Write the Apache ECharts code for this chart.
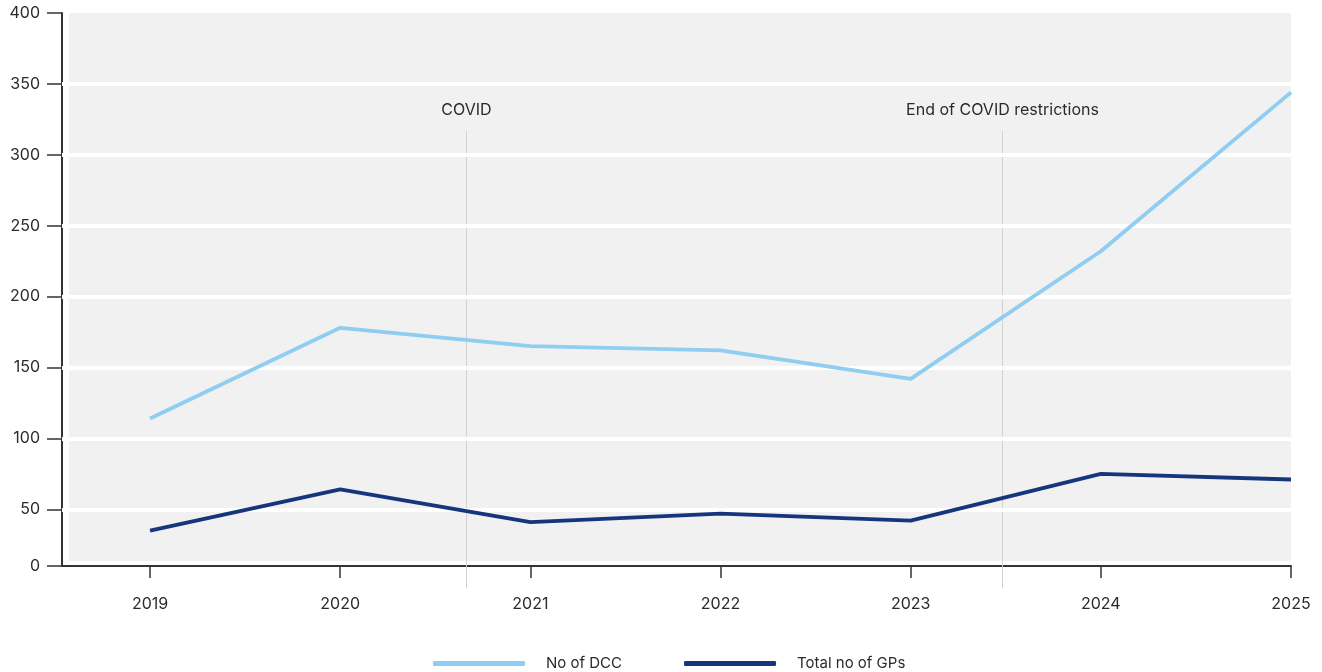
<!DOCTYPE html>
<html>
<head>
<meta charset="utf-8">
<script src="https://cdn.jsdelivr.net/npm/echarts@6/dist/echarts.min.js"></script>
<style>
  html, body { margin: 0; padding: 0; background: #fff; }
  #chart { width: 1322px; height: 672px; }
</style>
</head>
<body>
<div id="chart"></div>
<script>
// Years on the horizontal axis
const years = [2019, 2020, 2021, 2022, 2023, 2024, 2025];
// Series values
const dccCounts = [114, 178, 165, 162, 142, 232, 344];
const gpCounts = [35, 64, 41, 47, 42, 75, 71];
// Vertical y-axis tick labels (the lowest tick is shown as 0)
const yTicks = [10, 50, 100, 150, 200, 250, 300, 350, 400];
const yGridLines = [50, 100, 150, 200, 250, 300, 350];
// Event markers
const eventNames = ['COVID', 'End of COVID restrictions'];
const eventYears = [2020.66, 2023.48];
const eventSpan = [-5.5, 317];

const seriesNames = ['No of DCC', 'Total no of GPs'];
const seriesColors = ['#8fcdf1', '#15367c'];

const FONT = 'Inter, "Noto Sans", sans-serif';
const TEXT = '#2b2b2b';
const Y_MIN = 10, Y_MAX = 400;
const X_MIN = 2018.537, X_MAX = 2025;

const chart = echarts.init(document.getElementById('chart'));

function pairs(vals) {
  return years.map((y, i) => [y, vals[i]]);
}

const option = {
  animation: false,
  textStyle: { fontFamily: FONT },
  grid: { left: 62, right: 31, top: 13, bottom: 106, containLabel: false },
  xAxis: {
    type: 'value',
    min: X_MIN,
    max: X_MAX,
    axisLine: { show: true, lineStyle: { color: '#333', width: 2 } },
    axisTick: { show: true, inside: false, customValues: years, length: 12, lineStyle: { color: '#333', width: 1.5 } },
    axisLabel: { inside: false, customValues: years, margin: 30, color: TEXT, fontSize: 16, fontFamily: FONT, formatter: v => String(v) },
    splitLine: { show: false }
  },
  yAxis: {
    type: 'value',
    min: Y_MIN,
    max: Y_MAX,
    axisLine: { show: true, lineStyle: { color: '#333', width: 2 } },
    axisTick: { show: true, inside: false, customValues: yTicks, length: 15, lineStyle: { color: '#333', width: 1.5 } },
    axisLabel: {
      inside: false, customValues: yTicks, margin: 22, color: TEXT, fontSize: 16, fontFamily: FONT,
      formatter: v => (v === Y_MIN ? '0' : String(v))
    },
    splitLine: { show: false }
  },
  legend: {
    data: seriesNames,
    top: 651,
    left: 428,
    icon: 'roundRect',
    itemWidth: 92,
    itemHeight: 5,
    itemGap: 62,
    textStyle: { color: TEXT, fontSize: 15, fontFamily: FONT, padding: [0, 0, 0, 16] }
  },
  series: [
    {
      name: seriesNames[0],
      type: 'line',
      data: pairs(dccCounts),
      showSymbol: false,
      symbol: 'none',
      z: 5,
      lineStyle: { color: seriesColors[0], width: 3.8 },
      itemStyle: { color: seriesColors[0] }
    },
    {
      name: seriesNames[1],
      type: 'line',
      data: pairs(gpCounts),
      showSymbol: false,
      symbol: 'none',
      z: 5,
      lineStyle: { color: seriesColors[1], width: 3.8 },
      itemStyle: { color: seriesColors[1] },
      // White horizontal rules across the shaded plot area
      markLine: {
        silent: true,
        symbol: 'none',
        animation: false,
        label: { show: false },
        lineStyle: { color: '#ffffff', width: 4, type: 'solid' },
        data: yGridLines.map(v => ({ yAxis: v }))
      }
    }
  ]
};

chart.setOption(option);

const px = v => chart.convertToPixel({ xAxisIndex: 0 }, v);
const py = v => chart.convertToPixel({ yAxisIndex: 0 }, v);

// Shaded plot panel, inset a little from the axis lines
const panelLeft = px(X_MIN) + 7;
const panelRight = px(X_MAX);
const panelTop = py(Y_MAX);
const panelBottom = py(Y_MIN) - 5;

const graphics = [{
  type: 'rect',
  z: -10,
  silent: true,
  shape: { x: panelLeft, y: panelTop, width: panelRight - panelLeft, height: panelBottom - panelTop },
  style: { fill: '#f1f1f1' }
}];

// Event markers: thin vertical rule reaching below the axis, caption above
eventYears.forEach((yr, i) => {
  const x = Math.round(px(yr)) + 0.5;
  const yTop = py(eventSpan[1]);
  graphics.push({
    type: 'line',
    z: 1,
    silent: true,
    shape: { x1: x, y1: py(eventSpan[0]), x2: x, y2: yTop },
    style: { stroke: '#d2d2d2', lineWidth: 1 }
  });
  graphics.push({
    type: 'text',
    z: 6,
    silent: true,
    x: x,
    y: yTop - 21,
    style: {
      text: eventNames[i], fill: TEXT, font: '16px ' + FONT,
      align: 'center', verticalAlign: 'middle'
    }
  });
});

chart.setOption({ graphic: graphics });
</script>
</body>
</html>
